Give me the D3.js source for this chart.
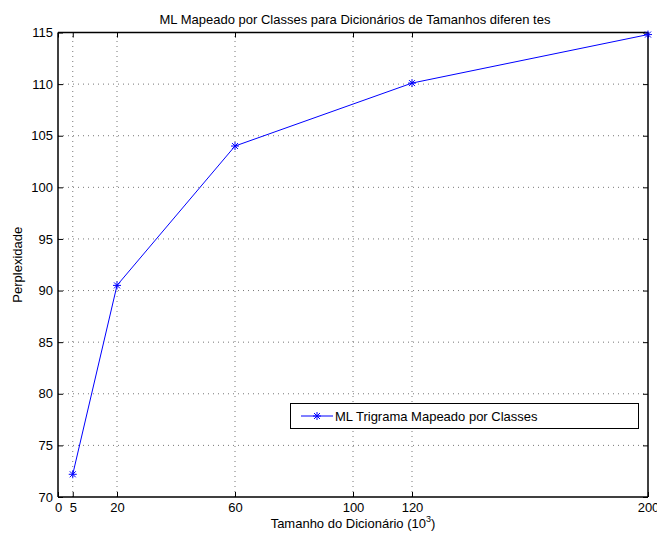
<!DOCTYPE html>
<html><head><meta charset="utf-8">
<script src="https://cdn.jsdelivr.net/npm/d3@7"></script>
<style>body{margin:0;background:#fff}svg{display:block;font-family:"Liberation Sans",Arial,sans-serif}</style>
</head><body>
<script>
const xValues = [5, 20, 60, 120, 200];
const yValues = [72.2, 90.5, 104.0, 110.1, 114.8];
const xTicks = [0, 5, 20, 60, 100, 120, 200];
const yTicks = [70, 75, 80, 85, 90, 95, 100, 105, 110, 115];
const seriesName = "ML Trigrama Mapeado por Classes";
const titleText = "ML Mapeado por Classes para Dicionários de Tamanhos diferen tes";

const W = 657, H = 536;
const FONT = '"Liberation Sans",Arial,sans-serif';
const fs = 13;
const m = {l: 58, r: 9, t: 32.5, b: 39};
const svg = d3.select("body").append("svg").attr("width", W).attr("height", H);
const x = d3.scaleLinear().domain([0, 200]).range([m.l, W - m.r]);
const y = d3.scaleLinear().domain([70, 115]).range([H - m.b, m.t]);

// grid
const g = svg.append("g");
g.selectAll(".gx").data(xTicks.filter(t => t > 0 && t < 200)).join("line")
  .attr("x1", d => x(d)).attr("x2", d => x(d)).attr("y1", y(70)).attr("y2", y(115))
  .attr("stroke", "#777").attr("stroke-width", 1).attr("stroke-dasharray", "1,4");
g.selectAll(".gy").data(yTicks.filter(t => t > 70 && t < 115)).join("line")
  .attr("x1", x(0)).attr("x2", x(200)).attr("y1", d => y(d)).attr("y2", d => y(d))
  .attr("stroke", "#777").attr("stroke-width", 1).attr("stroke-dasharray", "1,4");

// axes (ticks inward)
const ax = svg.append("g").attr("transform", `translate(0,${y(70)})`)
  .call(d3.axisBottom(x).tickValues(xTicks).tickSize(-5).tickPadding(6).tickFormat(d3.format("d")));
const axTop = svg.append("g").attr("transform", `translate(0,${y(115)})`)
  .call(d3.axisTop(x).tickValues(xTicks).tickSize(-5).tickFormat(""));
const ay = svg.append("g").attr("transform", `translate(${x(0)},0)`)
  .call(d3.axisLeft(y).tickValues(yTicks).tickSize(-5).tickPadding(5).tickFormat(d3.format("d")));
const ayR = svg.append("g").attr("transform", `translate(${x(200)},0)`)
  .call(d3.axisRight(y).tickValues(yTicks).tickSize(-5).tickFormat(""));
[ax, axTop, ay, ayR].forEach(a => {
  a.selectAll("path").attr("stroke", "#000").attr("stroke-width", 1.5);
  a.selectAll("line").attr("stroke", "#000");
  a.selectAll("text").attr("fill", "#000").style("font-size", fs + "px").style("font-family", FONT);
});
ax.select(".domain").attr("d", `M${x(0)},0H${x(200)}`);
axTop.select(".domain").attr("d", `M${x(0)},0H${x(200)}`);
ay.select(".domain").attr("d", `M0,${y(70)}V${y(115)}`);
ayR.select(".domain").attr("d", `M0,${y(70)}V${y(115)}`);

// line
const color = "#0000ff";
const data = xValues.map((v, i) => [v, yValues[i]]);
svg.append("path").datum(data)
  .attr("d", d3.line().x(d => x(d[0])).y(d => y(d[1])))
  .attr("fill", "none").attr("stroke", color).attr("stroke-width", 1);

function star(sel, cx, cy, r) {
  const gg = sel.append("g").attr("transform", `translate(${cx},${cy})`).attr("stroke", color).attr("stroke-width", 1);
  gg.append("line").attr("x1", -r).attr("x2", r).attr("y1", 0).attr("y2", 0);
  gg.append("line").attr("x1", 0).attr("x2", 0).attr("y1", -r).attr("y2", r);
  const d = r * 0.75;
  gg.append("line").attr("x1", -d).attr("x2", d).attr("y1", -d).attr("y2", d);
  gg.append("line").attr("x1", -d).attr("x2", d).attr("y1", d).attr("y2", -d);
}
data.forEach(d => star(svg, x(d[0]), y(d[1]), 4));

// legend
const lg = svg.append("g");
lg.append("rect").attr("x", 290.5).attr("y", 403.5).attr("width", 348).attr("height", 25)
  .attr("fill", "#fff").attr("stroke", "#000").attr("stroke-width", 1);
lg.append("line").attr("x1", 301).attr("x2", 333).attr("y1", 416).attr("y2", 416).attr("stroke", color);
star(lg, 317, 416, 4);
lg.append("text").attr("x", 335).attr("y", 421).text(seriesName).style("font-size", fs + "px").style("font-family", FONT);

// title & labels
svg.append("text").attr("x", 355).attr("y", 24).attr("text-anchor", "middle").style("font-size", fs + "px").style("font-family", FONT).text(titleText);
const xl = svg.append("text").attr("x", 353).attr("y", 528).attr("text-anchor", "middle").style("font-size", fs + "px").style("font-family", FONT);
xl.append("tspan").text("Tamanho do Dicionário (10");
xl.append("tspan").attr("dy", -6).style("font-size", "9px").text("3");
xl.append("tspan").attr("dy", 6).text(")");
svg.append("text").attr("transform", `translate(22,${(y(70)+y(115))/2}) rotate(-90)`)
  .attr("text-anchor", "middle").style("font-size", fs + "px").style("font-family", FONT).text("Perplexidade");
</script>
</body></html>
